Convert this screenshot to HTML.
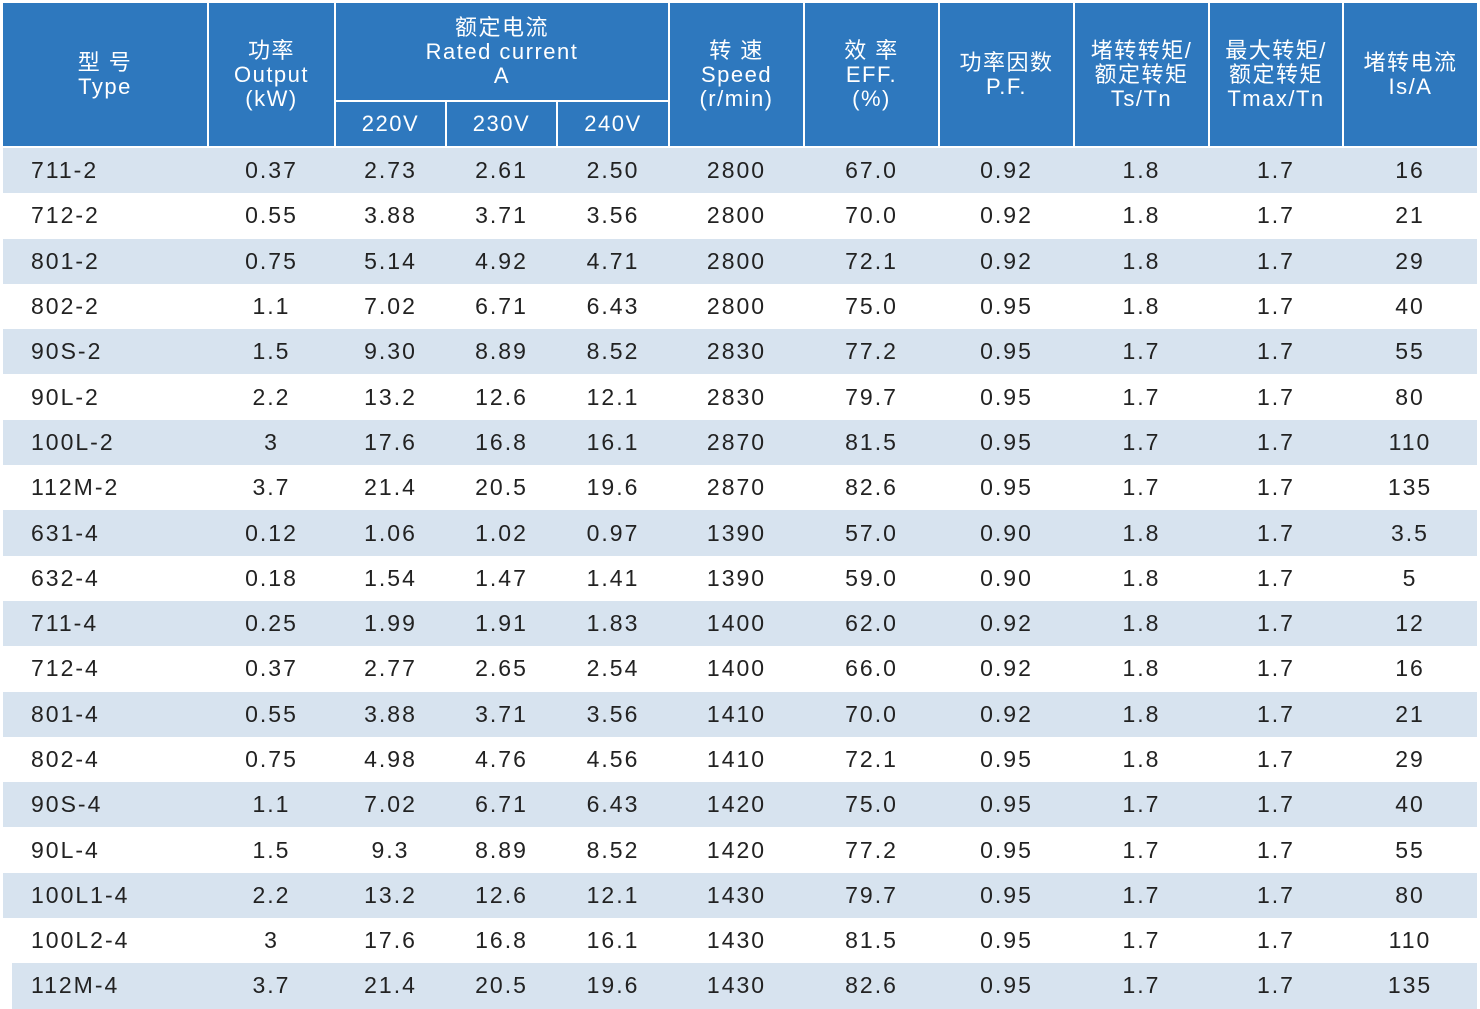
<!DOCTYPE html>
<html><head><meta charset="utf-8"><style>
body{margin:0;width:1480px;height:1008px;background:#fff;overflow:hidden;font-family:"Liberation Sans","Noto Sans CJK SC",sans-serif;}
table{position:absolute;left:3px;top:3px;border-collapse:collapse;table-layout:fixed;}
th{background:#2e78be;color:#fff;font-weight:normal;font-size:22px;line-height:24px;letter-spacing:1.5px;border:2px solid #fff;border-top:none;padding:0;text-align:center;}
td{font-size:23px;color:#222;letter-spacing:2px;text-align:center;padding:0;height:45.3px;}
tr.s td{background:#d7e3ef;}
td:first-child{text-align:left;padding-left:28px;}
tr.last td:first-child{background:linear-gradient(90deg,#fff 9px,#d7e3ef 9px);}
</style></head><body>
<table>
<colgroup><col style="width:205px"><col style="width:127px"><col style="width:111px"><col style="width:111px"><col style="width:112px"><col style="width:135px"><col style="width:135px"><col style="width:135px"><col style="width:135px"><col style="width:134px"><col style="width:134px"></colgroup>
<tr style="height:98px"><th rowspan="2" style="border-left:none">型 号<br>Type</th><th rowspan="2">功率<br>Output<br>(kW)</th><th colspan="3">额定电流<br>Rated current<br>A</th><th rowspan="2">转 速<br>Speed<br>(r/min)</th><th rowspan="2">效 率<br>EFF.<br>(%)</th><th rowspan="2">功率因数<br>P.F.</th><th rowspan="2">堵转转矩/<br>额定转矩<br>Ts/Tn</th><th rowspan="2">最大转矩/<br>额定转矩<br>Tmax/Tn</th><th rowspan="2" style="border-right:none">堵转电流<br>Is/A</th></tr>
<tr style="height:46px"><th>220V</th><th>230V</th><th>240V</th></tr>
<tr class="s"><td>711-2</td><td>0.37</td><td>2.73</td><td>2.61</td><td>2.50</td><td>2800</td><td>67.0</td><td>0.92</td><td>1.8</td><td>1.7</td><td>16</td></tr>
<tr><td>712-2</td><td>0.55</td><td>3.88</td><td>3.71</td><td>3.56</td><td>2800</td><td>70.0</td><td>0.92</td><td>1.8</td><td>1.7</td><td>21</td></tr>
<tr class="s"><td>801-2</td><td>0.75</td><td>5.14</td><td>4.92</td><td>4.71</td><td>2800</td><td>72.1</td><td>0.92</td><td>1.8</td><td>1.7</td><td>29</td></tr>
<tr><td>802-2</td><td>1.1</td><td>7.02</td><td>6.71</td><td>6.43</td><td>2800</td><td>75.0</td><td>0.95</td><td>1.8</td><td>1.7</td><td>40</td></tr>
<tr class="s"><td>90S-2</td><td>1.5</td><td>9.30</td><td>8.89</td><td>8.52</td><td>2830</td><td>77.2</td><td>0.95</td><td>1.7</td><td>1.7</td><td>55</td></tr>
<tr><td>90L-2</td><td>2.2</td><td>13.2</td><td>12.6</td><td>12.1</td><td>2830</td><td>79.7</td><td>0.95</td><td>1.7</td><td>1.7</td><td>80</td></tr>
<tr class="s"><td>100L-2</td><td>3</td><td>17.6</td><td>16.8</td><td>16.1</td><td>2870</td><td>81.5</td><td>0.95</td><td>1.7</td><td>1.7</td><td>110</td></tr>
<tr><td>112M-2</td><td>3.7</td><td>21.4</td><td>20.5</td><td>19.6</td><td>2870</td><td>82.6</td><td>0.95</td><td>1.7</td><td>1.7</td><td>135</td></tr>
<tr class="s"><td>631-4</td><td>0.12</td><td>1.06</td><td>1.02</td><td>0.97</td><td>1390</td><td>57.0</td><td>0.90</td><td>1.8</td><td>1.7</td><td>3.5</td></tr>
<tr><td>632-4</td><td>0.18</td><td>1.54</td><td>1.47</td><td>1.41</td><td>1390</td><td>59.0</td><td>0.90</td><td>1.8</td><td>1.7</td><td>5</td></tr>
<tr class="s"><td>711-4</td><td>0.25</td><td>1.99</td><td>1.91</td><td>1.83</td><td>1400</td><td>62.0</td><td>0.92</td><td>1.8</td><td>1.7</td><td>12</td></tr>
<tr><td>712-4</td><td>0.37</td><td>2.77</td><td>2.65</td><td>2.54</td><td>1400</td><td>66.0</td><td>0.92</td><td>1.8</td><td>1.7</td><td>16</td></tr>
<tr class="s"><td>801-4</td><td>0.55</td><td>3.88</td><td>3.71</td><td>3.56</td><td>1410</td><td>70.0</td><td>0.92</td><td>1.8</td><td>1.7</td><td>21</td></tr>
<tr><td>802-4</td><td>0.75</td><td>4.98</td><td>4.76</td><td>4.56</td><td>1410</td><td>72.1</td><td>0.95</td><td>1.8</td><td>1.7</td><td>29</td></tr>
<tr class="s"><td>90S-4</td><td>1.1</td><td>7.02</td><td>6.71</td><td>6.43</td><td>1420</td><td>75.0</td><td>0.95</td><td>1.7</td><td>1.7</td><td>40</td></tr>
<tr><td>90L-4</td><td>1.5</td><td>9.3</td><td>8.89</td><td>8.52</td><td>1420</td><td>77.2</td><td>0.95</td><td>1.7</td><td>1.7</td><td>55</td></tr>
<tr class="s"><td>100L1-4</td><td>2.2</td><td>13.2</td><td>12.6</td><td>12.1</td><td>1430</td><td>79.7</td><td>0.95</td><td>1.7</td><td>1.7</td><td>80</td></tr>
<tr><td>100L2-4</td><td>3</td><td>17.6</td><td>16.8</td><td>16.1</td><td>1430</td><td>81.5</td><td>0.95</td><td>1.7</td><td>1.7</td><td>110</td></tr>
<tr class="s last"><td>112M-4</td><td>3.7</td><td>21.4</td><td>20.5</td><td>19.6</td><td>1430</td><td>82.6</td><td>0.95</td><td>1.7</td><td>1.7</td><td>135</td></tr>
</table>
</body></html>
